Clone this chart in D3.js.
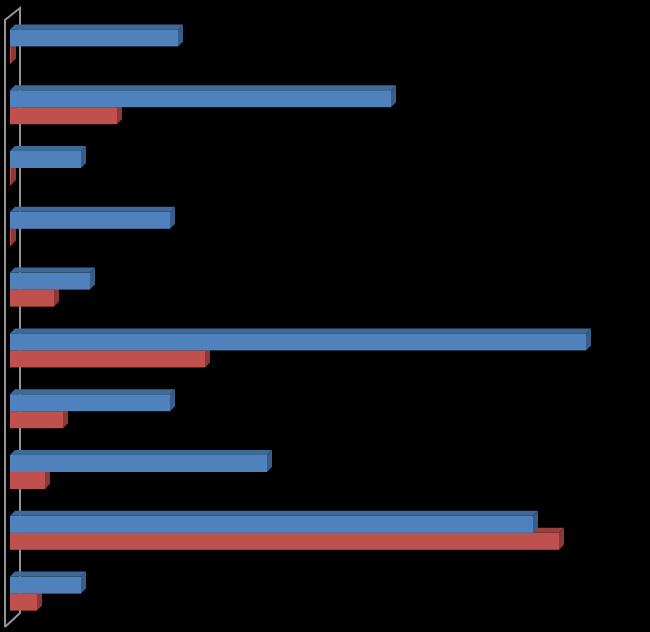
<!DOCTYPE html>
<html>
<head>
<meta charset="utf-8">
<script src="https://cdn.jsdelivr.net/npm/d3@7"></script>
<style>
  html, body { margin: 0; padding: 0; background: #000; }
  svg { display: block; }
</style>
</head>
<body>
<svg id="chart" width="650" height="632"></svg>
<script>
// categories top to bottom (labels are not shown in the picture)
const categories = ["1", "2", "3", "4", "5", "6", "7", "8", "9", "10"];
const seriesA = [16.8, 38.1, 7.1, 16.0, 8.0, 57.6, 16.0, 25.7, 52.3, 7.1];
const seriesB = [0.1, 10.7, 0.1, 0.1, 4.4, 19.5, 5.3, 3.5, 54.9, 2.7];

const svg = d3.select("#chart");
const depth = 5;

const x = d3.scaleLinear().domain([0, 60]).range([10, 610]);
const y = d3.scaleBand().domain(categories).range([16, 624]).paddingInner(0.44).paddingOuter(0.22);
const sub = d3.scaleBand().domain(["a", "b"]).range([0, y.bandwidth()]);

const colors = {
  a: { front: "#4f81bd", top: "#3f6999", side: "#385d8a" },
  b: { front: "#c0504d", top: "#9c3f3c", side: "#8c3836" }
};

// wall
const wall = svg.append("g").attr("fill", "none").attr("stroke", "#969696").attr("stroke-width", 2);
wall.append("path").attr("d", "M5,627 L5,20 L20,8 L20,613 L5,627");

function bar3d(g, x0, x1, yTop, h, c) {
  const d = depth;
  g.append("rect").attr("x", x0).attr("y", yTop).attr("width", Math.max(0, x1 - x0)).attr("height", h).attr("fill", c.front);
  g.append("path")
    .attr("d", `M${x0},${yTop} L${x0 + d},${yTop - d} L${x1 + d},${yTop - d} L${x1},${yTop} Z`)
    .attr("fill", c.top);
  g.append("path")
    .attr("d", `M${x1},${yTop} L${x1 + d},${yTop - d} L${x1 + d},${yTop + h - d} L${x1},${yTop + h} Z`)
    .attr("fill", c.side);
}

const bars = svg.append("g");
categories.forEach((cat, i) => {
  const g = bars.append("g");
  // lower series first so the upper one sits on top of it
  bar3d(g, x(0), x(seriesB[i]), y(cat) + sub("b"), sub.bandwidth(), colors.b);
  bar3d(g, x(0), x(seriesA[i]), y(cat) + sub("a"), sub.bandwidth(), colors.a);
});
</script>
</body>
</html>
